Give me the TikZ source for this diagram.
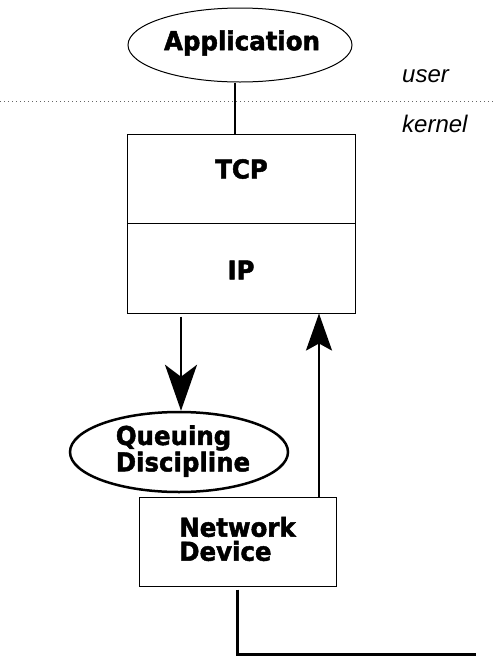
\documentclass[tikz,border=0pt]{standalone}
\usepackage{fontspec}
\setmainfont{Liberation Sans}
\newfontfamily\boldfam{DejaVu Sans}[UprightFont=* Bold,FakeBold=1.8,FakeStretch=0.94]
\usetikzlibrary{shapes.geometric,arrows.meta}
\begin{document}
\begin{tikzpicture}[x=1pt,y=1pt,
  lbl/.style={font=\boldfam\fontsize{26}{24}\selectfont},
  boxnode/.style={draw,line width=1pt,rectangle,inner sep=0pt},
  ovalnode/.style={draw,ellipse,inner sep=0pt},
  layer/.style={font=\itshape\fontsize{24}{24}\selectfont,anchor=base west,inner sep=0pt},
  bigarrow/.style={line width=2.5pt},
]
\useasboundingbox (0,0) rectangle (496,-657);
\fill[white] (0,0) rectangle (496,-657);
% Application
\node[ovalnode,line width=1pt,minimum width=224,minimum height=74] (app) at (240,-45) {};
\node[lbl] (apptext) at (242,-43) {Application};
% user / kernel
\node[layer] (user) at (402,-82) {user};
\node[layer] (kernel) at (402,-132) {kernel};
\coordinate (dl) at (0,-101);
\coordinate (dr) at (496,-101);
\draw[line width=0.8pt,dash pattern=on 1pt off 3pt,gray!80!black] (dl) -- (dr);
% TCP / IP
\node[boxnode,minimum width=228,minimum height=89] (tcp) at (241.5,-178.5) {};
\node[boxnode,minimum width=228,minimum height=90] (ip) at (241.5,-268) {};
\node[lbl] (tcptext) at (241.5,-169) {TCP};
\node[lbl] (iptext) at (241,-270) {IP};
% connector app - tcp
\draw[line width=1.6pt] ([xshift=-5pt]app.south) -- ([xshift=-5pt]app.south |- tcp.north);
% Queuing discipline
\node[ovalnode,line width=2.5pt,minimum width=218,minimum height=80] (qd) at (179,-452) {};
\node[lbl,align=left] (qdtext) at (183,-451) {Queuing\\Discipline};
% Network device
\node[boxnode,minimum width=197,minimum height=89] (nd) at (237.5,-541.5) {};
\node[lbl,align=left] (ndtext) at (237.5,-539) {Network\\Device};
% arrows
\coordinate (downx) at (181,0);
\draw[bigarrow,-{Stealth[length=46pt,width=32pt,inset=12pt]}] (downx |- ip.south) ++(0,-3) -- (downx |- qd.north);
\coordinate (upx) at (319,0);
\draw[bigarrow,-{Stealth[length=37pt,width=26pt,inset=7pt]}] (upx |- nd.north) -- (upx |- ip.south);
% wire
\coordinate (wireend) at (476,-654);
\draw[line width=3pt] (nd.south) ++(0,-3) |- (wireend);
\end{tikzpicture}
\end{document}
